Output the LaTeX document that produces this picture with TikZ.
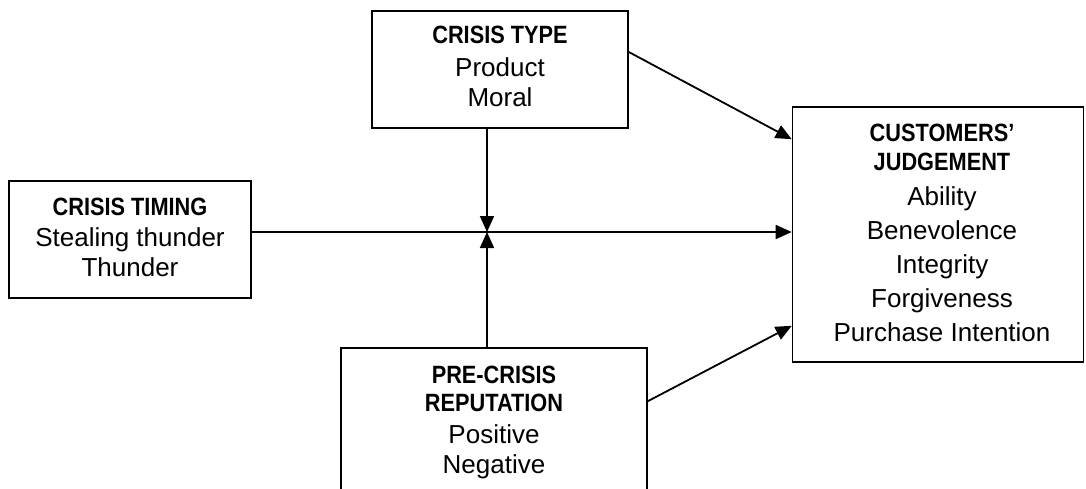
\documentclass[tikz,border=0pt]{standalone}
\usepackage{fontspec}
\usepackage{graphicx}
\setmainfont{Liberation Sans}
\usetikzlibrary{arrows.meta}
\newcommand{\hd}[1]{\scalebox{0.87}[1]{\fontsize{25}{30}\selectfont\bfseries #1}}
\tikzset{
  boxnode/.style={draw, line width=1.6pt, inner sep=0pt},
  txt/.style={anchor=north, align=center, inner sep=0pt, font=\fontsize{26}{30}\selectfont},
  conn/.style={line width=1.8pt, -{Triangle[length=16pt,width=14pt]}},
}
\begin{document}
\begin{tikzpicture}[x=1pt,y=-1pt]
\useasboundingbox (0,0) rectangle (1086,488);
\clip (0,0) rectangle (1086,488);
\fill[white] (0,0) rectangle (1086,488);
% boxes
\node[boxnode, minimum width=256pt, minimum height=117pt] (ct) at (500,69.5) {};
\node[boxnode, minimum width=242pt, minimum height=117pt] (tm) at (130,239.5) {};
\node[boxnode, minimum width=291pt, minimum height=255pt] (cj) at (938,234.5) {};
\node[boxnode, minimum width=306pt, minimum height=172pt] (pr) at (494,434) {};
% texts
\node[txt] (ctt) at (500,26) {\hd{CRISIS TYPE}\\[3pt]Product\\Moral};
\node[txt] (tmt) at (130,198) {\hd{CRISIS TIMING}\\[1pt]Stealing thunder\\Thunder};
\node[txt] (cjt) at (942,124) {\hd{CUSTOMERS’}\\[-1pt]\hd{JUDGEMENT}\\[5pt]Ability\\[4pt]Benevolence\\[4pt]Integrity\\[4pt]Forgiveness\\[4pt]Purchase Intention};
\node[txt] (prt) at (494,366) {\hd{PRE-CRISIS}\\[-2pt]\hd{REPUTATION}\\[2pt]Positive\\Negative};
% junction
\coordinate (j) at (487,232);
% connectors
\draw[conn] (ct.south -| j) -- (j);
\draw[conn] (pr.north -| j) -- (j);
\draw[line width=1.8pt] (tm.east |- j) -- (j);
\draw[conn] (j) -- (cj.west |- j);
\draw[conn] ([yshift=17.5pt]ct.east) -- ([yshift=-33pt]cj.north west);
\draw[conn] ([yshift=-54pt]pr.north east) -- ([yshift=37pt]cj.south west);
\end{tikzpicture}
\end{document}
